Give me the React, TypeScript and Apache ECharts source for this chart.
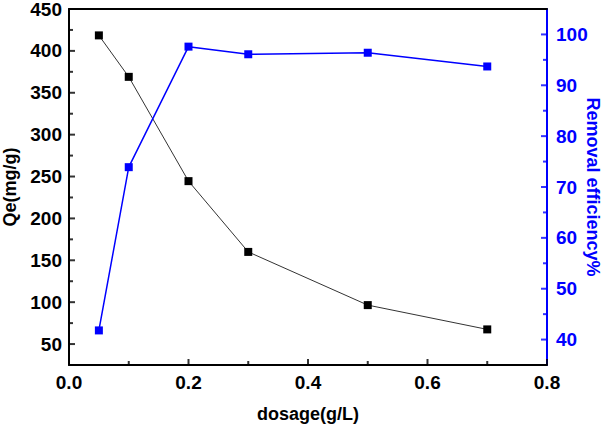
import React, { useEffect, useRef } from "react";
import * as echarts from "echarts";

const dosage = [0.05, 0.1, 0.2, 0.3, 0.5, 0.7];
const qe = [418.5, 369, 244.5, 160, 96.5, 67.5];
const removal = [41.8, 73.9, 97.6, 96.1, 96.4, 93.7];
const xTicks = [0, 0.2, 0.4, 0.6, 0.8];
const xMinor = [0.1, 0.3, 0.5, 0.7];
const leftTicks = [50, 100, 150, 200, 250, 300, 350, 400, 450];
const leftMinor = [75, 125, 175, 225, 275, 325, 375, 425];
const rightTicks = [40, 50, 60, 70, 80, 90, 100];
const rightMinor = [45, 55, 65, 75, 85, 95];

const X_MIN = 0;
const X_MAX = 0.8;
const L_MIN = 25;
const L_MAX = 450;
const R_MIN = 35;
const R_MAX = 105;

const FONT = "Liberation Sans";
const BLUE = "#0000ff";

type Side = "bottom" | "left" | "right";

function tickSeries(values: number[], side: Side, len: number, color: string) {
  const data = values.map((v) =>
    side === "bottom" ? [v, L_MIN] : side === "left" ? [X_MIN, v] : [X_MAX, v]
  );
  const size = side === "bottom" ? [2, len] : [len, 2];
  const offset =
    side === "bottom" ? [0, -len / 2] : side === "left" ? [len / 2, 0] : [-len / 2, 0];
  return {
    type: "scatter",
    silent: true,
    clip: false,
    z: 10,
    xAxisIndex: 0,
    yAxisIndex: side === "right" ? 1 : 0,
    data,
    symbol: "rect",
    symbolSize: size,
    symbolOffset: offset,
    itemStyle: { color },
  };
}

export default function App() {
  const ref = useRef<HTMLDivElement>(null);
  useEffect(() => {
    const chart = echarts.init(ref.current!, null, { renderer: "svg" });
    const titleStyle = { fontFamily: FONT, fontWeight: "bold" as const, fontSize: 18 };
    const labelStyle = { fontFamily: FONT, fontWeight: "bold" as const, fontSize: 19 };
    chart.setOption({
      animation: false,
      backgroundColor: "#fff",
      grid: { left: 69, right: 55, top: 9, bottom: 59, outerBoundsMode: "none" },
      xAxis: [
        {
          type: "value",
          min: X_MIN,
          max: X_MAX,
          name: "dosage(g/L)",
          nameLocation: "middle",
          nameGap: 40,
          nameMoveOverlap: false,
          nameTextStyle: { ...titleStyle, color: "#000" },
          axisLine: { show: true, onZero: false, lineStyle: { color: "#000", width: 2 } },
          axisTick: { show: false },
          axisLabel: { ...labelStyle, color: "#000", margin: 8, customValues: xTicks, formatter: (v: number) => v.toFixed(1) },
          splitLine: { show: false },
        },
        {
          type: "value",
          position: "top",
          min: X_MIN,
          max: X_MAX,
          axisLine: { show: true, onZero: false, lineStyle: { color: "#000", width: 2 } },
          axisTick: { show: false },
          axisLabel: { show: false },
          splitLine: { show: false },
        },
      ],
      yAxis: [
        {
          type: "value",
          position: "left",
          min: L_MIN,
          max: L_MAX,
          name: "Qe(mg/g)",
          nameLocation: "middle",
          nameGap: 50,
          nameMoveOverlap: false,
          nameTextStyle: { ...titleStyle, color: "#000" },
          axisLine: { show: true, onZero: false, lineStyle: { color: "#000", width: 2 } },
          axisTick: { show: false },
          axisLabel: { ...labelStyle, color: "#000", margin: 7, customValues: leftTicks },
          splitLine: { show: false },
        },
        {
          type: "value",
          position: "right",
          min: R_MIN,
          max: R_MAX,
          name: "Removal efficiency%",
          nameLocation: "middle",
          nameGap: 37,
          nameRotate: -90,
          nameMoveOverlap: false,
          nameTextStyle: { ...titleStyle, color: BLUE },
          axisLine: { show: true, onZero: false, lineStyle: { color: BLUE, width: 2 } },
          axisTick: { show: false },
          axisLabel: { ...labelStyle, color: BLUE, margin: 9, customValues: rightTicks },
          splitLine: { show: false },
        },
      ],
      series: [
        tickSeries(xTicks, "bottom", 6, "#000"),
        tickSeries(xMinor, "bottom", 4, "#000"),
        tickSeries(leftTicks, "left", 6, "#000"),
        tickSeries(leftMinor, "left", 4, "#000"),
        tickSeries(rightTicks, "right", 6, BLUE),
        tickSeries(rightMinor, "right", 4, BLUE),
        {
          type: "line",
          name: "Qe",
          yAxisIndex: 0,
          data: dosage.map((d, i) => [d, qe[i]]),
          symbol: "rect",
          symbolSize: 8,
          itemStyle: { color: "#000" },
          lineStyle: { color: "#333", width: 1 },
        },
        {
          type: "line",
          name: "Removal",
          yAxisIndex: 1,
          data: dosage.map((d, i) => [d, removal[i]]),
          symbol: "rect",
          symbolSize: 8,
          itemStyle: { color: BLUE },
          lineStyle: { color: BLUE, width: 1.5 },
        },
      ],
    });
    return () => chart.dispose();
  }, []);
  return <div ref={ref} style={{ width: 602, height: 424, position: "absolute", left: 0, top: 0 }} />;
}
